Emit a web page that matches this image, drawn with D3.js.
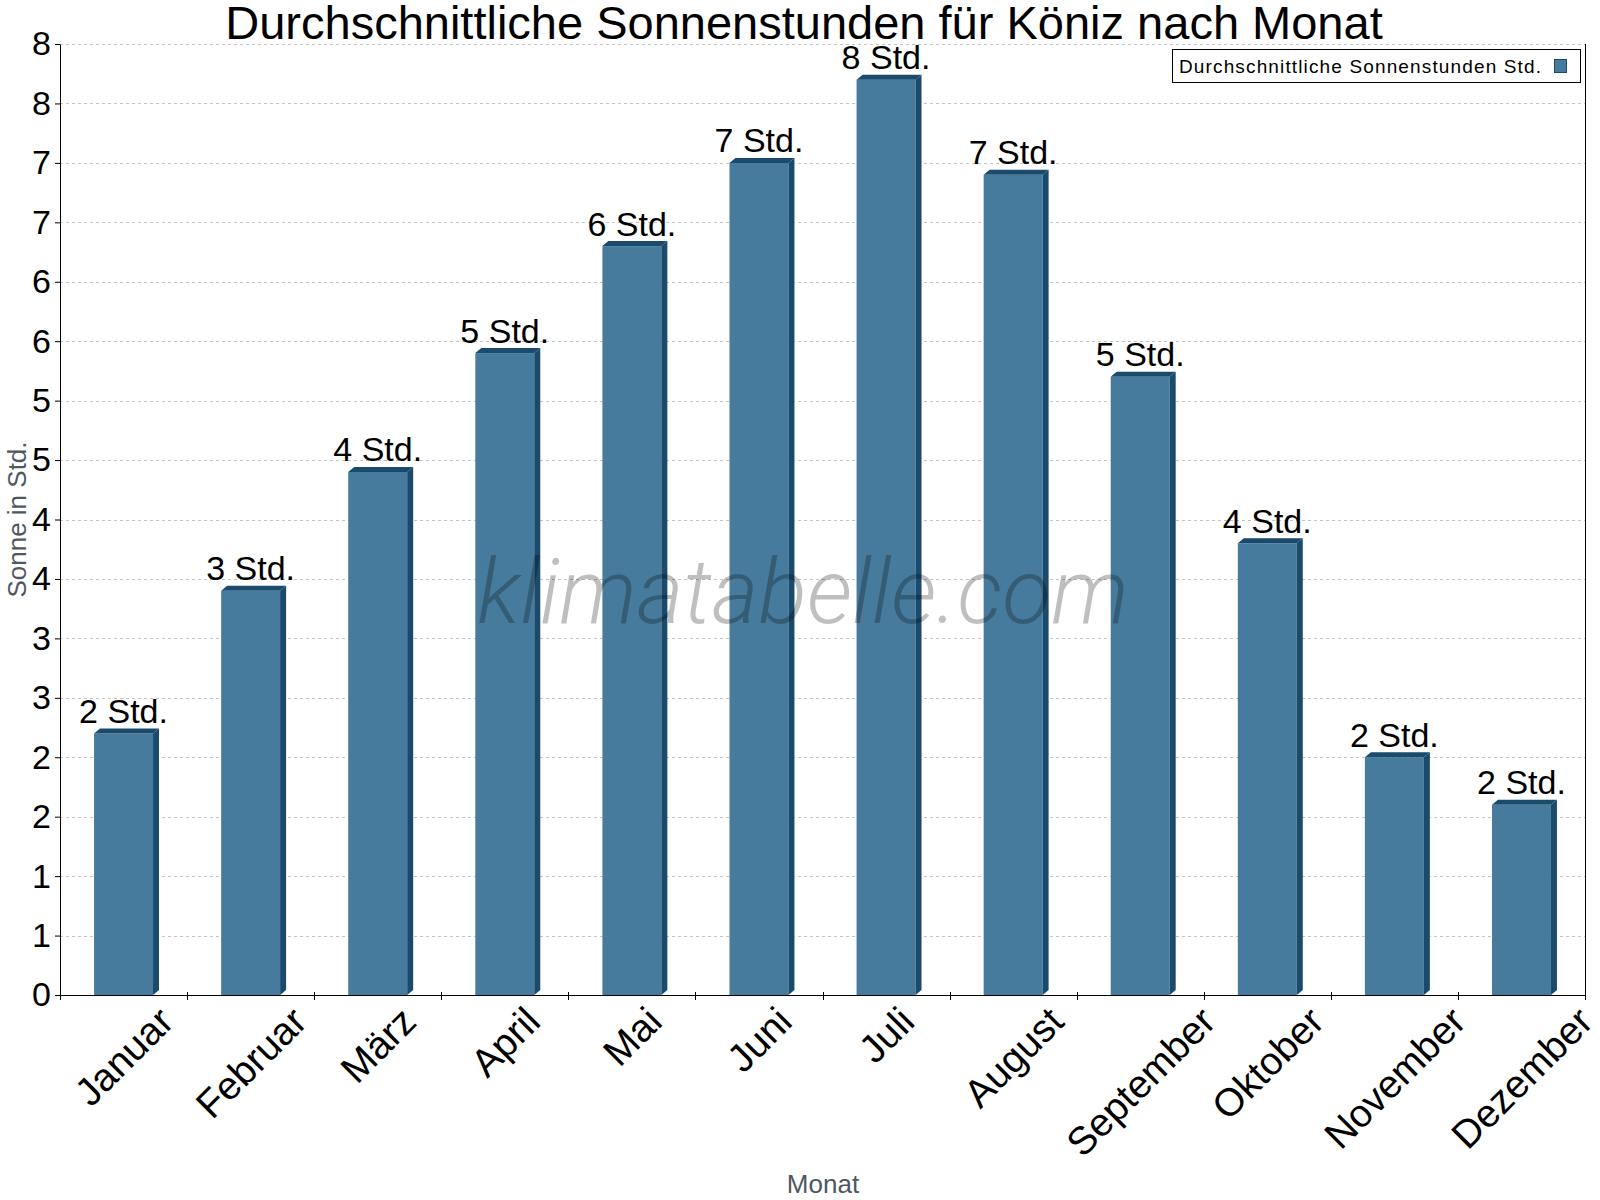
<!DOCTYPE html>
<html>
<head>
<meta charset="utf-8">
<script src="https://cdn.jsdelivr.net/npm/d3@7"></script>
<style>
  body { margin: 0; background: #fff; }
  svg { display: block; }
  text { font-family: "Liberation Sans", Arial, sans-serif; }
</style>
</head>
<body>
<svg id="chart" width="1600" height="1200"></svg>
<script>
// data
const months = ["Januar", "Februar", "März", "April", "Mai", "Juni",
  "Juli", "August", "September", "Oktober", "November", "Dezember"];
const sunHours = [2.2, 3.4, 4.4, 5.4, 6.3, 7.0, 7.7, 6.9, 5.2, 3.8, 2.0, 1.6];
const yTickValues = [0, 0.5, 1, 1.5, 2, 2.5, 3, 3.5, 4, 4.5, 5, 5.5, 6, 6.5, 7, 7.5, 8];
const yTickLabels = ["0", "1", "1", "2", "2", "3", "3", "4", "4", "5", "5", "6", "6", "7", "7", "8", "8"];
const seriesName = "Durchschnittliche Sonnenstunden Std.";

const W = 1600, H = 1200;
const margin = { top: 44, right: 15, bottom: 205, left: 60 };
const x0 = margin.left, x1 = W - margin.right;
const y0 = H - margin.bottom, y1 = margin.top;

const frontColor = "#467b9d";
const darkColor = "#1a4a6c";
const depthX = 6, depthY = 5;

const svg = d3.select("#chart");

const x = d3.scaleBand().domain(months).range([x0, x1]);
const y = d3.scaleLinear().domain([0, 8]).range([y0, y1]);
const barW = x.bandwidth() * 0.464;

// grid
svg.append("g")
  .selectAll("line")
  .data(yTickValues.filter(d => d > 0))
  .join("line")
  .attr("x1", x0).attr("x2", x1)
  .attr("y1", d => Math.round(y(d)) + 0.5)
  .attr("y2", d => Math.round(y(d)) + 0.5)
  .attr("stroke", "#c4c4c4")
  .attr("stroke-dasharray", "3,3");

// bars with a small 3d edge
const bars = svg.append("g")
  .selectAll("g")
  .data(months.map((m, i) => ({ month: m, value: sunHours[i] })))
  .join("g");

bars.append("rect")
  .attr("x", d => x(d.month) + (x.bandwidth() - barW) / 2)
  .attr("y", d => y(d.value))
  .attr("width", barW)
  .attr("height", d => y0 - y(d.value))
  .attr("fill", frontColor);

bars.append("path")
  .attr("fill", darkColor)
  .attr("d", d => {
    const l = x(d.month) + (x.bandwidth() - barW) / 2, r = l + barW, t = y(d.value);
    return `M${r},${t}L${r + depthX},${t - depthY}L${r + depthX},${y0 - depthY}L${r},${y0}Z`;
  });

bars.append("path")
  .attr("fill", darkColor)
  .attr("d", d => {
    const l = x(d.month) + (x.bandwidth() - barW) / 2, r = l + barW, t = y(d.value);
    return `M${l},${t}L${l + depthX},${t - depthY}L${r + depthX},${t - depthY}L${r},${t}Z`;
  });

bars.append("text")
  .attr("x", d => x(d.month) + x.bandwidth() / 2)
  .attr("y", d => y(d.value) - 10.5)
  .attr("text-anchor", "middle")
  .attr("font-size", 34)
  .attr("fill", "#000")
  .text(d => Math.round(d.value) + " Std.");

// watermark
svg.append("text")
  .attr("x", 803)
  .attr("y", 623)
  .attr("text-anchor", "middle")
  .style("font-family", "Roboto, 'Open Sans', sans-serif")
  .style("font-weight", 300)
  .style("font-style", "italic")
  .attr("font-size", 90)
  .attr("fill", "#000")
  .attr("fill-opacity", 0.25)
  .text("klimatabelle.com");

// y axis
svg.append("g")
  .attr("transform", `translate(${x0},0)`)
  .call(d3.axisLeft(y)
    .tickValues(yTickValues)
    .tickFormat((d, i) => yTickLabels[i])
    .tickSize(5)
    .tickSizeOuter(0)
    .tickPadding(4))
  .call(g => g.attr("font-size", null).attr("font-family", null).attr("color", "#000"))
  .call(g => g.selectAll("text").attr("font-size", 34));

// x axis: baseline, ticks at band edges, right border
const ax = svg.append("g").attr("stroke", "#000");
ax.append("line")
  .attr("x1", x0).attr("x2", x1)
  .attr("y1", y0 + 0.5).attr("y2", y0 + 0.5);
ax.append("line")
  .attr("x1", x1 + 0.5).attr("x2", x1 + 0.5)
  .attr("y1", y1).attr("y2", y0 + 5);
ax.selectAll(".tick")
  .data(months.slice(1).map(m => x(m)))
  .join("line")
  .attr("x1", d => Math.round(d) + 0.5).attr("x2", d => Math.round(d) + 0.5)
  .attr("y1", y0 - 3).attr("y2", y0 + 5);
ax.append("line")
  .attr("x1", x0 + 0.5).attr("x2", x0 + 0.5)
  .attr("y1", y0).attr("y2", y0 + 5);

// rotated month labels
const fs = 39;
svg.append("g")
  .selectAll("text")
  .data(months)
  .join("text")
  .attr("font-size", fs)
  .attr("text-anchor", "middle")
  .attr("y", 0.36 * fs)
  .attr("fill", "#000")
  .text(d => d)
  .each(function (d) {
    const w = this.getComputedTextLength();
    const half = (w + 0.72 * fs) * Math.SQRT1_2 / 2;
    d3.select(this).attr("transform",
      `translate(${x(d) + x.bandwidth() / 2},${y0 + 9 + half}) rotate(-45)`);
  });

// axis titles
svg.append("text")
  .attr("transform", `translate(26,${(y0 + y1) / 2}) rotate(-90)`)
  .attr("text-anchor", "middle")
  .attr("font-size", 26)
  .attr("fill", "#4f5861")
  .text("Sonne in Std.");

svg.append("text")
  .attr("x", 823)
  .attr("y", 1193)
  .attr("text-anchor", "middle")
  .attr("font-size", 26)
  .attr("fill", "#4f5861")
  .text("Monat");

// title
svg.append("text")
  .attr("x", 804)
  .attr("y", 39)
  .attr("text-anchor", "middle")
  .attr("font-size", 47)
  .attr("fill", "#000")
  .text("Durchschnittliche Sonnenstunden für Köniz nach Monat");

// legend
const lg = svg.append("g");
lg.append("rect")
  .attr("x", 1172.5).attr("y", 49.5)
  .attr("width", 408).attr("height", 33)
  .attr("fill", "#fff").attr("stroke", "#000");
lg.append("text")
  .attr("x", 1179).attr("y", 72.5)
  .attr("font-size", 19)
  .attr("textLength", 362)
  .attr("lengthAdjust", "spacing")
  .attr("fill", "#000")
  .text(seriesName);
lg.append("rect")
  .attr("x", 1554.5).attr("y", 59.5)
  .attr("width", 12).attr("height", 13)
  .attr("fill", frontColor).attr("stroke", darkColor);
</script>
</body>
</html>
